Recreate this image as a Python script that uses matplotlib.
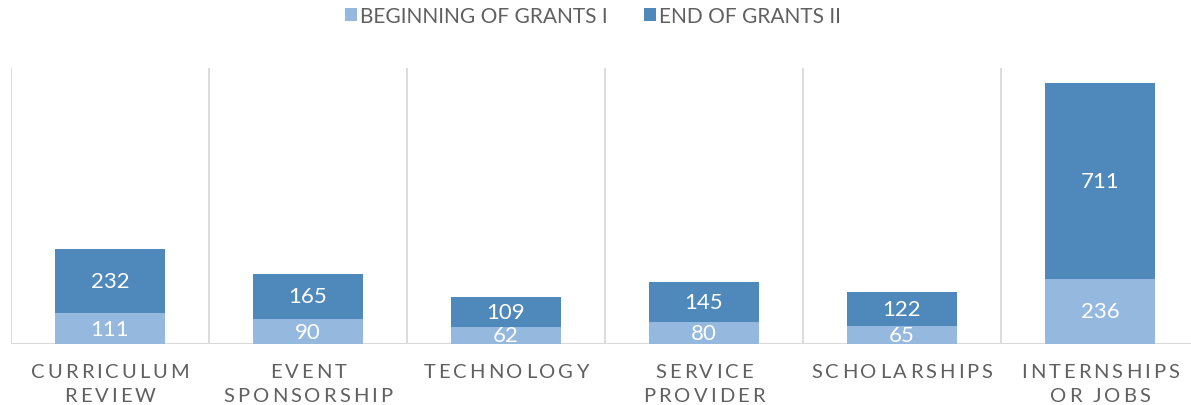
import matplotlib
matplotlib.use("Agg")
import matplotlib.pyplot as plt
from matplotlib.font_manager import FontProperties
import numpy as np

categories = ["CURRICULUM\nREVIEW", "EVENT\nSPONSORSHIP", "TECHNOLOGY",
              "SERVICE\nPROVIDER", "SCHOLARSHIPS", "INTERNSHIPS\nOR JOBS"]
beginning = [111, 90, 62, 80, 65, 236]
end = [232, 165, 109, 145, 122, 711]
series_names = ["BEGINNING OF GRANTS I", "END OF GRANTS II"]

LIGHT = "#95B8DF"
DARK = "#4F88BB"
GRID = "#D9D9D9"
TEXT = "#606060"

plt.rcParams["font.family"] = ["Lato", "DejaVu Sans"]

W, H = 1191, 406
fig = plt.figure(figsize=(W / 100, H / 100), dpi=100)
# plot area: left edge at 11px, category pitch 198px, baseline at y=345, top at y=69
ax = fig.add_axes([11 / W, (H - 345) / H, 6 * 198 / W, 276 / H])

x = np.arange(len(categories))
b1 = ax.bar(x, beginning, width=0.556, color=LIGHT, label=series_names[0], zorder=2)
b2 = ax.bar(x, end, width=0.556, bottom=beginning, color=DARK, label=series_names[1], zorder=2)

for bars, vals, bottoms in ((b1, beginning, [0] * 6), (b2, end, beginning)):
    for rect, v, b in zip(bars, vals, bottoms):
        ax.text(rect.get_x() + rect.get_width() / 2, b + v / 2, str(v),
                ha="center", va="center", color="white", fontsize=16, zorder=3)

ax.set_xlim(-0.5, len(categories) - 0.5)
ax.set_ylim(0, 1000)
for xv in np.arange(-0.5, len(categories), 1.0):
    ax.axvline(xv, color=GRID, lw=1.3, zorder=1)
ax.axhline(0, color=GRID, lw=1.5, zorder=1)

ax.set_xticks(x)
ax.set_xticklabels([])
ax.tick_params(axis="x", length=0)
ax.set_yticks([])
for s in ax.spines.values():
    s.set_visible(False)

# category labels with wide letter spacing, placed letter by letter
renderer = fig.canvas.get_renderer()
prop = FontProperties(family=["Lato", "DejaVu Sans"], size=14.5)
TRACK = 3.0  # px between letters


def text_w(s):
    w, _, _ = renderer.get_text_width_height_descent(s + "x", prop, ismath=False)
    w0, _, _ = renderer.get_text_width_height_descent("x", prop, ismath=False)
    return w - w0


baselines = [H - 378, H - 402]
for i, lab in enumerate(categories):
    cx = ax.transData.transform((i, 0))[0]
    for li, line in enumerate(lab.split("\n")):
        total = text_w(line) + TRACK * (len(line) - 1)
        x0 = cx - total / 2
        for k, ch in enumerate(line):
            px = x0 + text_w(line[:k]) + TRACK * k
            fig.text(px / W, baselines[li] / H, ch, fontproperties=prop,
                     color=TEXT, ha="left", va="baseline")

fig.legend(handles=[b1, b2], loc="upper left", bbox_to_anchor=(326 / W, 1.03),
           ncol=2, frameon=False, handlelength=0.6, handleheight=0.6,
           handletextpad=0.12, columnspacing=1.75, labelcolor=TEXT,
           prop={"family": ["Lato", "DejaVu Sans"], "size": 15})

fig.savefig("out.png", dpi=100)
